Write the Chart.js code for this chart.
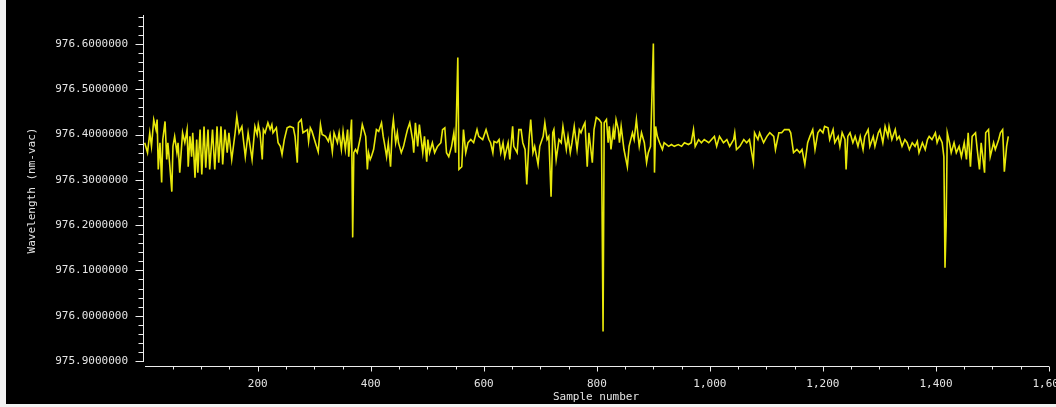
<!DOCTYPE html>
<html><head><meta charset="utf-8">
<script src="https://cdn.jsdelivr.net/npm/chart.js@4.4.1/dist/chart.umd.min.js"></script>
<style>
html,body{margin:0;padding:0;background:#f2f2f2;width:1056px;height:407px;overflow:hidden}
#wrap{position:absolute;left:6px;top:0;width:1050px;height:404px;background:#000}
canvas{display:block}
</style></head><body><div id="wrap"><canvas id="c" width="1050" height="404"></canvas></div>
<script>
const sampleNumbers = [
0,5,9,12,16,20,22,24,27,30,32,36,39,41,44,48,50,53,57,59,62,67,71,75,77,80,83,85,89,92,94,98,101,105,108,112,115,120,124,128,131,135,138,142,146,149,154,160,163,167,172,178,183,190,195,199,
201,204,208,210,213,218,222,225,227,233,236,240,243,247,252,257,263,266,270,272,277,280,288,290,293,296,302,307,311,314,320,325,328,332,335,341,344,348,351,355,359,361,366,368,370,373,376,382,385,391,394,396,399,
401,405,410,414,419,422,424,428,431,435,438,440,444,447,449,454,458,462,465,469,474,476,479,483,486,492,495,499,501,504,509,513,518,524,527,531,534,538,543,547,550,554,556,561,564,568,572,577,582,588,591,598,
604,609,612,616,618,623,627,630,634,637,643,646,651,653,659,662,666,669,673,676,680,683,687,690,696,699,705,708,712,715,719,722,724,728,733,737,740,746,749,753,756,760,765,769,772,776,779,783,786,792,795,799,
804,808,811,813,817,820,822,825,829,831,834,838,840,843,848,854,857,863,866,870,873,875,879,884,888,891,895,900,902,904,907,911,916,919,927,932,937,944,950,955,962,967,971,974,980,985,990,998,
1003,1008,1012,1017,1024,1030,1035,1042,1044,1047,1053,1060,1065,1070,1077,1079,1085,1088,1095,1101,1106,1113,1116,1122,1127,1132,1140,1143,1148,1154,1159,1163,1168,1173,1177,1182,1186,1191,1195,
1200,1203,1209,1212,1218,1221,1227,1230,1234,1239,1241,1244,1248,1253,1257,1262,1266,1271,1274,1280,1283,1289,1292,1298,1301,1306,1310,1315,1317,1322,1328,1331,1335,1340,1345,1349,1353,1358,1363,1367,1370,1376,1381,1385,1388,1393,1399,
1402,1406,1411,1414,1416,1418,1420,1424,1427,1432,1436,1441,1445,1450,1454,1457,1461,1464,1470,1473,1477,1480,1486,1488,1493,1496,1502,1505,1511,1514,1518,1521,1525,1528
];
const wavelengths = [
976.382,976.360,976.404,976.374,976.433,976.411,976.433,976.323,976.382,976.294,976.389,976.429,976.345,976.382,976.338,976.274,976.374,976.396,976.360,976.382,976.316,976.404,976.382,976.411,976.329,976.396,976.351,976.404,976.305,976.389,976.316,976.411,976.312,976.418,976.327,976.411,976.323,976.411,976.323,976.418,976.338,976.418,976.334,976.411,976.360,976.404,976.345,976.404,976.440,976.404,976.418,976.351,976.404,976.345,976.418,976.400,
976.422,976.404,976.345,976.411,976.404,976.426,976.411,976.422,976.404,976.415,976.382,976.374,976.356,976.389,976.415,976.418,976.415,976.396,976.338,976.426,976.433,976.404,976.411,976.385,976.415,976.407,976.382,976.362,976.422,976.400,976.396,976.385,976.400,976.362,976.404,976.382,976.404,976.367,976.407,976.367,976.411,976.351,976.433,976.173,976.360,976.367,976.360,976.396,976.422,976.396,976.323,976.360,976.345,
976.351,976.367,976.411,976.407,976.426,976.396,976.382,976.351,976.382,976.329,976.411,976.433,976.382,976.404,976.382,976.360,976.374,976.396,976.411,976.426,976.389,976.360,976.426,976.374,976.422,976.360,976.396,976.340,976.389,976.360,976.382,976.360,976.374,976.382,976.411,976.415,976.360,976.351,976.374,976.404,976.360,976.570,976.323,976.329,976.411,976.360,976.382,976.389,976.382,976.411,976.396,976.389,
976.411,976.389,976.382,976.360,976.385,976.382,976.389,976.360,976.382,976.351,976.382,976.345,976.418,976.374,976.360,976.411,976.411,976.382,976.367,976.290,976.389,976.433,976.360,976.374,976.334,976.374,976.396,976.426,976.389,976.396,976.263,976.404,976.411,976.345,976.389,976.382,976.418,976.367,976.396,976.360,976.382,976.418,976.367,976.411,976.404,976.418,976.426,976.329,976.404,976.338,976.411,976.438,
976.433,976.426,975.965,976.426,976.433,976.382,976.418,976.367,976.411,976.389,976.433,976.411,976.382,976.418,976.367,976.329,976.374,976.404,976.389,976.433,976.396,976.374,976.404,976.382,976.338,976.360,976.374,976.601,976.316,976.418,976.396,976.382,976.367,976.382,976.374,976.378,976.374,976.378,976.374,976.382,976.378,976.382,976.411,976.374,976.389,976.382,976.389,976.382,
976.389,976.396,976.374,976.396,976.382,976.389,976.374,976.389,976.404,976.367,976.374,976.389,976.382,976.389,976.338,976.404,976.389,976.404,976.382,976.396,976.404,976.396,976.367,976.404,976.404,976.411,976.411,976.404,976.360,976.367,976.360,976.367,976.334,976.382,976.396,976.411,976.367,976.404,976.411,
976.404,976.418,976.415,976.389,976.411,976.382,976.396,976.374,976.404,976.389,976.323,976.396,976.404,976.382,976.396,976.374,976.396,976.367,976.396,976.411,976.374,976.396,976.374,976.404,976.411,976.382,976.418,976.396,976.418,976.389,976.411,976.389,976.396,976.374,976.389,976.382,976.367,976.382,976.374,976.385,976.360,976.382,976.367,976.389,976.396,976.389,976.404,
976.382,976.396,976.382,976.351,976.106,976.201,976.404,976.382,976.360,976.382,976.360,976.374,976.351,976.382,976.345,976.404,976.329,976.396,976.404,976.367,976.323,976.382,976.316,976.404,976.411,976.351,976.382,976.367,976.389,976.404,976.411,976.318,976.374,976.396
];
const yTickValues = [975.9, 976.0, 976.1, 976.2, 976.3, 976.4, 976.5, 976.6];
const xTickValues = [200, 400, 600, 800, 1000, 1200, 1400, 1600];
const yAxisTitle = 'Wavelength (nm-vac)';
const xAxisTitle = 'Sample number';

const points = sampleNumbers.map((s, i) => ({x: s, y: wavelengths[i]}));

const Y_MIN = 975.889, Y_MAX = 976.664, X_MIN = -3, X_MAX = 1600;
const labelFont = {family: "'DejaVu Sans Mono', monospace", size: 11};
const labelColor = '#e4e4e4';

const decor = {
  id: 'decor',
  beforeDraw(chart) {
    const {ctx, width, height} = chart;
    ctx.save(); ctx.fillStyle = '#000'; ctx.fillRect(0, 0, width, height); ctx.restore();
  },
  afterDraw(chart) {
    const {ctx, chartArea: a, scales: {x, y}} = chart;
    ctx.save();
    ctx.strokeStyle = '#ececec';
    ctx.lineWidth = 1;
    ctx.beginPath();
    const ax = Math.round(a.left) + 0.5;
    ctx.moveTo(ax, a.top);
    ctx.lineTo(ax, Math.round(y.getPixelForValue(yTickValues[0])) + 1);
    for (let k = 0; ; k++) {
      const v = yTickValues[0] + k * 0.02;
      if (v > Y_MAX + 1e-9) break;
      const py = Math.round(y.getPixelForValue(v)) + 0.5;
      const len = (k % 5 === 0) ? 8 : 5;
      ctx.moveTo(ax - len, py); ctx.lineTo(ax, py);
    }
    const by = Math.round(a.bottom) + 0.5;
    ctx.moveTo(Math.round(x.getPixelForValue(0)), by);
    ctx.lineTo(a.right, by);
    for (let v = 50; v <= X_MAX; v += 50) {
      const px = Math.round(x.getPixelForValue(v)) + 0.5;
      const len = (v % 200 === 0) ? 5 : 3;
      ctx.moveTo(px, by); ctx.lineTo(px, by + len);
    }
    ctx.stroke();
    ctx.restore();
  }
};

new Chart(document.getElementById('c'), {
  type: 'line',
  data: {
    datasets: [{
      data: points,
      borderColor: 'rgb(232,232,10)',
      borderWidth: 1.6,
      pointRadius: 0,
      tension: 0,
      fill: false
    }]
  },
  options: {
    responsive: false,
    animation: false,
    devicePixelRatio: 1,
    layout: {padding: {left: 0, right: 7, top: 15, bottom: 0}},
    plugins: {legend: {display: false}, tooltip: {enabled: false}},
    scales: {
      x: {
        type: 'linear', min: X_MIN, max: X_MAX,
        grid: {display: false, drawTicks: false},
        border: {display: false},
        afterBuildTicks: s => { s.ticks = xTickValues.map(v => ({value: v})); },
        afterFit: s => { s.height = 38; s.paddingLeft = 0; s.paddingRight = 0; },
        ticks: {
          color: labelColor, font: labelFont, padding: 12, maxRotation: 0, autoSkip: false,
          callback: v => Number(v).toLocaleString('en-US')
        },
        title: {display: true, text: xAxisTitle, color: labelColor, font: labelFont, padding: {top: 0, bottom: 0}}
      },
      y: {
        type: 'linear', min: Y_MIN, max: Y_MAX,
        grid: {display: false, drawTicks: false},
        border: {display: false},
        afterBuildTicks: s => { s.ticks = yTickValues.map(v => ({value: v})); },
        afterFit: s => { s.width = 137; s.paddingTop = 0; s.paddingBottom = 0; },
        ticks: {
          color: labelColor, font: labelFont, padding: 15, autoSkip: false,
          callback: v => Number(v).toFixed(7)
        },
        title: {display: true, text: yAxisTitle, color: labelColor, font: labelFont, padding: {top: 20, bottom: 0}}
      }
    }
  },
  plugins: [decor]
});
</script>
</body></html>
